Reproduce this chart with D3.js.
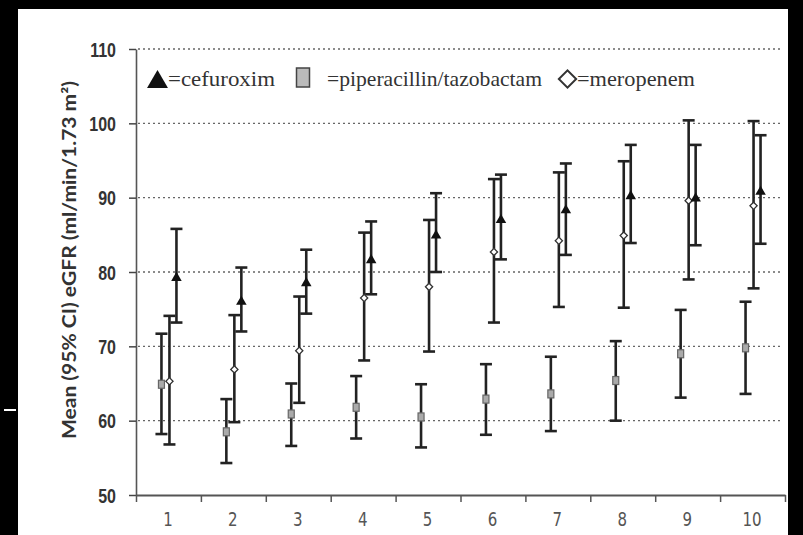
<!DOCTYPE html>
<html><head><meta charset="utf-8">
<script src="https://cdn.jsdelivr.net/npm/d3@7"></script>
<style>html,body{margin:0;padding:0;background:#000;overflow:hidden}
.serif{font-family:"Liberation Serif","Tinos","Noto Serif","DejaVu Serif","FreeSerif","Times New Roman",Times,Georgia,serif}</style>
</head><body>
<svg id="c" width="803" height="535"></svg>
<script>
const categories = [1,2,3,4,5,6,7,8,9,10];
const yTicks = [50,60,70,80,90,100,110];
const pipMean = [64.9,58.5,60.9,61.8,60.5,62.9,63.6,65.4,69.0,69.8];
const pipLow  = [58.2,54.3,56.6,57.6,56.4,58.1,58.6,60.0,63.1,63.6];
const pipHigh = [71.7,62.9,65.0,66.0,64.9,67.6,68.6,70.7,74.9,76.0];
const merMean = [65.3,66.9,69.4,76.5,78.0,82.7,84.2,84.9,89.6,88.9];
const merLow  = [56.8,59.8,62.4,68.1,69.3,73.2,75.3,75.2,79.0,77.8];
const merHigh = [74.1,74.2,76.7,85.3,87.0,92.5,93.4,94.9,100.4,100.3];
const cefMean = [79.2,76.0,78.5,81.6,84.9,87.0,88.3,90.2,89.9,90.8];
const cefLow  = [73.2,72.0,74.4,77.0,80.0,81.7,82.3,83.9,83.6,83.8];
const cefHigh = [85.8,80.6,83.0,86.8,90.6,93.1,94.6,97.1,97.1,98.4];
const legendLabels = ["=cefuroxim","=piperacillin/tazobactam","=meropenem"];
const yTitle = "Mean (95% CI) eGFR (ml/min/1.73 m²)";

const svg = d3.select("#c");
svg.append("rect").attr("x",18).attr("y",9).attr("width",770).attr("height",526).attr("fill","#fff");
svg.append("rect").attr("x",4).attr("y",409).attr("width",12).attr("height",2).attr("fill","#fff");

const pLeft = 136, pRight = 785, pTop = 49, pBottom = 495;
const x = d3.scaleLinear().domain([0.5,10.5]).range([pLeft,pRight]);
const y = d3.scaleLinear().domain([50,110]).range([pBottom,pTop]);

// gridlines
svg.append("g").selectAll("line").data(yTicks.filter(v=>v>50)).join("line")
  .attr("x1",pLeft+2).attr("x2",pRight-2)
  .attr("y1",d=>y(d)).attr("y2",d=>y(d))
  .attr("stroke","#666").attr("stroke-width",1.4).attr("stroke-dasharray","2,3");

// y axis
const gy = svg.append("g").attr("transform",`translate(${pLeft},0)`)
  .call(d3.axisLeft(y).tickValues(yTicks).tickSize(7).tickSizeOuter(0).tickPadding(13));
gy.select(".domain").attr("stroke","#555").attr("stroke-width",1.6);
gy.selectAll(".tick line").attr("stroke","#444").attr("stroke-width",1.5);
gy.selectAll(".tick text").attr("font-family","Liberation Sans, Arial, sans-serif")
  .attr("font-weight","bold").attr("font-size",16).attr("fill","#333")
  .attr("dy","0.36em").attr("transform","scale(1,1.25)");

// x axis: boundary ticks
const bounds = d3.range(0.5,10.51,1);
const gx = svg.append("g").attr("transform",`translate(0,${pBottom})`)
  .call(d3.axisBottom(x).tickValues(bounds).tickSize(7).tickSizeOuter(0).tickFormat(""));
gx.select(".domain").attr("stroke","#555").attr("stroke-width",2);
gx.selectAll(".tick line").attr("stroke","#555").attr("stroke-width",1.5);
// x labels
const gxl = svg.append("g").attr("transform",`translate(-1,${pBottom})`)
  .call(d3.axisBottom(x).tickValues(categories).tickSize(0).tickPadding(14));
gxl.select(".domain").remove();
gxl.selectAll(".tick text").attr("font-family","DejaVu Sans, sans-serif")
  .attr("font-size",15).attr("fill","#555").attr("transform","scale(1,1.27)");

// y title
svg.append("text").attr("transform","translate(76,260) rotate(-90)")
  .attr("text-anchor","middle").attr("font-family","Lato, Carlito, sans-serif")
  .attr("font-weight","bold").attr("font-size",18).attr("fill","#333")
  .attr("textLength",358).attr("lengthAdjust","spacingAndGlyphs").text(yTitle);

// error bars
const series = [
  {mean:pipMean, low:pipLow, high:pipHigh, off:-7, sym:"square"},
  {mean:merMean, low:merLow, high:merHigh, off:1, sym:"diamond"},
  {mean:cefMean, low:cefLow, high:cefHigh, off:8, sym:"triangle"}
];
const cap = 6;
series.forEach(s=>{
  const g = svg.append("g");
  const d = categories.map((c,i)=>({c, m:s.mean[i], lo:s.low[i], hi:s.high[i]}));
  g.selectAll(".v").data(d).join("line")
    .attr("x1",e=>x(e.c)+s.off).attr("x2",e=>x(e.c)+s.off)
    .attr("y1",e=>y(e.lo)).attr("y2",e=>y(e.hi))
    .attr("stroke","#222").attr("stroke-width",2.6);
  ["lo","hi"].forEach(k=>{
    g.selectAll(".c"+k).data(d).join("line")
      .attr("x1",e=>x(e.c)+s.off-cap).attr("x2",e=>x(e.c)+s.off+cap)
      .attr("y1",e=>y(e[k])).attr("y2",e=>y(e[k]))
      .attr("stroke","#222").attr("stroke-width",2.6);
  });
});
// markers
series.forEach(s=>{
  const g = svg.append("g");
  const d = categories.map((c,i)=>({c, m:s.mean[i]}));
  if (s.sym==="square") {
    g.selectAll("rect").data(d).join("rect")
      .attr("x",e=>x(e.c)+s.off-3).attr("y",e=>y(e.m)-4)
      .attr("width",6).attr("height",8)
      .attr("fill","#aaa").attr("stroke","#666").attr("stroke-width",1.2);
  } else if (s.sym==="diamond") {
    g.selectAll("path").data(d).join("path")
      .attr("d",d3.symbol(d3.symbolSquare,26)())
      .attr("transform",e=>`translate(${x(e.c)+s.off},${y(e.m)}) rotate(45)`)
      .attr("fill","#fff").attr("stroke","#333").attr("stroke-width",1.3);
  } else {
    g.selectAll("path").data(d).join("path")
      .attr("d",d3.symbol(d3.symbolTriangle,48)())
      .attr("transform",e=>`translate(${x(e.c)+s.off},${y(e.m)})`)
      .attr("fill","#111");
  }
});

// legend
const lg = svg.append("g");
lg.append("path").attr("d",d3.symbol(d3.symbolTriangle,190)())
  .attr("transform","translate(157.5,82)").attr("fill","#111");
lg.append("rect").attr("x",296.5).attr("y",68).attr("width",13).attr("height",19)
  .attr("fill","#bbb").attr("stroke","#444").attr("stroke-width",1.5);
lg.append("path").attr("d",d3.symbol(d3.symbolSquare,150)())
  .attr("transform","translate(567.5,79) rotate(45)")
  .attr("fill","#fff").attr("stroke","#333").attr("stroke-width",2);
const lx = [168, 327, 577], lw = [107, 215, 118];
lg.selectAll("text").data(legendLabels).join("text")
  .attr("class","serif")
  .attr("x",(d,i)=>lx[i]).attr("y",86)
  .attr("font-size",22).attr("fill","#333")
  .attr("textLength",(d,i)=>lw[i]).attr("lengthAdjust","spacingAndGlyphs")
  .text(d=>d);
</script>
</body></html>
